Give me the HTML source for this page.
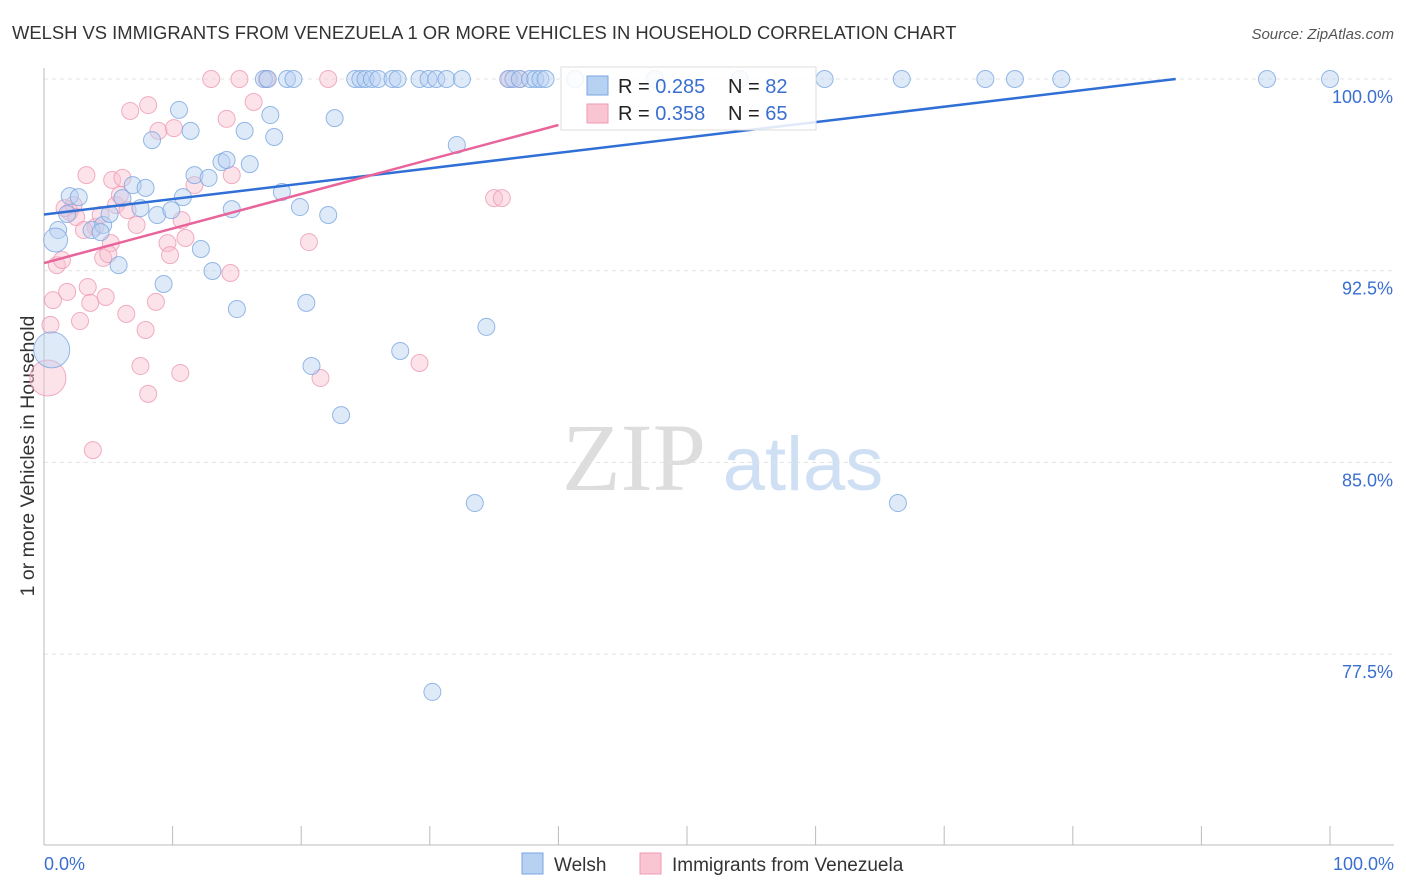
<!DOCTYPE html>
<html><head><meta charset="utf-8"><style>
body{margin:0;background:#fff;font-family:"Liberation Sans",sans-serif}
#c{position:relative;width:1406px;height:892px;overflow:hidden}
</style></head><body>
<div id="c">
<svg id="s" width="1406" height="892" xmlns="http://www.w3.org/2000/svg">
<text x="12" y="39" font-size="18.4" fill="#333">WELSH VS IMMIGRANTS FROM VENEZUELA 1 OR MORE VEHICLES IN HOUSEHOLD CORRELATION CHART</text>
<text x="1394" y="39" font-size="15" fill="#555" font-style="italic" text-anchor="end">Source: ZipAtlas.com</text>
<text transform="translate(34,456) rotate(-90)" font-size="19.5" fill="#333" text-anchor="middle">1 or more Vehicles in Household</text>
<g><text x="634" y="490" font-size="96" font-family="Liberation Serif,serif" fill="#ddd" text-anchor="middle">ZIP</text><text x="803" y="490" font-size="76" fill="#cfe0f5" text-anchor="middle">atlas</text></g>
<g id="grid"></g><g id="pts"></g><g id="lines"></g>
<g>
<rect x="561" y="67" width="255" height="63" fill="#fff" fill-opacity="0.85" stroke="#ddd"/>
<rect x="587" y="76" width="21" height="19" fill="#b7d1f2" stroke="#7aa6e0"/>
<rect x="587" y="104" width="21" height="19" fill="#f9c5d3" stroke="#ee9ab4"/>
<text x="618" y="93" font-size="20" fill="#222">R = <tspan fill="#3a6fd0">0.285</tspan></text>
<text x="728" y="93" font-size="20" fill="#222">N = <tspan fill="#3a6fd0">82</tspan></text>
<text x="618" y="120" font-size="20" fill="#222">R = <tspan fill="#3a6fd0">0.358</tspan></text>
<text x="728" y="120" font-size="20" fill="#222">N = <tspan fill="#3a6fd0">65</tspan></text>
</g>
<g>
<rect x="522" y="853" width="21" height="21" fill="#b7d1f2" stroke="#7aa6e0"/>
<text x="554" y="871" font-size="19" fill="#333">Welsh</text>
<rect x="640" y="853" width="21" height="21" fill="#f9c5d3" stroke="#ee9ab4"/>
<text x="672" y="871" font-size="19" fill="#333">Immigrants from Venezuela</text>
</g>
</svg></div>
<script>
const yTicks=[100,92.5,85,77.5];
const yTickLabels=["100.0%","92.5%","85.0%","77.5%"];
const xTickValues=[0,10,20,30,40,50,60,70,80,90,100];
const blueX=[2.0,2.7,1.8,1.1,0.9,0.6,3.7,4.6,5.1,6.1,6.9,7.9,7.5,8.8,9.9,8.4,10.5,11.4,11.7,10.8,12.8,12.2,13.1,13.8,14.2,14.6,15.6,16.0,15.0,17.6,17.9,18.5,19.9,20.4,20.8,22.1,22.6,23.1,27.7,32.1,33.5,34.4,30.2,66.4,5.8,9.3,4.4,17.1,17.4,18.9,19.4,24.2,24.6,25.0,25.5,26.0,27.1,27.5,29.2,29.9,30.5,31.3,32.5,36.1,36.5,37.0,37.8,38.2,38.6,39.0,41.3,47.5,54.1,60.7,66.7,73.2,75.5,79.1,95.1,100];
const blueY=[95.42,95.38,94.72,94.09,93.7,89.4,94.09,94.29,94.72,95.34,95.85,95.74,94.95,94.68,94.87,97.61,98.79,97.97,96.24,95.38,96.13,93.35,92.49,96.75,96.83,94.91,97.97,96.67,91.0,98.59,97.73,95.58,94.99,91.24,88.77,94.68,98.47,86.85,89.36,97.42,83.41,90.3,76.02,83.41,92.72,91.98,94.01,100,100,100,100,100,100,100,100,100,100,100,100,100,100,100,100,100,100,100,100,100,100,100,100,100,100,100,100,100,100,100,100,100];
const blueSize=[1,1,1,1,2,3,1,1,1,1,1,1,1,1,1,1,1,1,1,1,1,1,1,1,1,1,1,1,1,1,1,1,1,1,1,1,1,1,1,1,1,1,1,1,1,1,1,1,1,1,1,1,1,1,1,1,1,1,1,1,1,1,1,1,1,1,1,1,1,1,1,1,1,1,1,1,1,1,1,1];
const pinkX=[0.3,0.5,0.7,1.0,1.4,1.8,2.0,2.3,2.5,2.8,3.3,3.4,3.6,4.0,4.4,4.6,4.8,5.2,5.0,5.3,5.6,6.1,6.4,6.7,7.2,7.5,7.9,8.1,8.1,8.7,8.9,9.6,9.8,10.1,10.6,10.7,11.0,3.8,11.7,13.0,14.2,14.6,15.2,16.3,14.5,17.3,20.6,21.5,22.1,29.2,35.0,35.6,37.0,36.2,1.6,3.1,5.9,6.5];
const pinkY=[88.3,90.38,91.35,92.72,92.92,91.67,94.8,95.07,94.6,90.53,96.24,91.86,91.24,94.21,94.68,93.0,91.47,93.58,93.15,96.05,95.07,96.13,90.81,98.75,94.29,88.77,90.18,87.68,98.98,91.28,97.97,93.58,93.11,98.08,88.5,94.48,93.78,85.48,95.85,100,98.44,96.24,100,99.1,92.41,100,93.62,88.3,100,88.89,95.34,95.34,100,100,94.95,94.09,95.46,94.87];
const pinkSize=[3,1,1,1,1,1,1,1,1,1,1,1,1,1,1,1,1,1,1,1,1,1,1,1,1,1,1,1,1,1,1,1,1,1,1,1,1,1,1,1,1,1,1,1,1,1,1,1,1,1,1,1,1,1,1,1,1,1];
const blueLine=[94.7,100,88];
const pinkLine=[92.8,98.2,40];
const NS="http://www.w3.org/2000/svg";
const X=v=>44+v*12.86, Y=v=>79+(100-v)*25.56;
function mk(t,a,p){const e=document.createElementNS(NS,t);for(const k in a)e.setAttribute(k,a[k]);p.appendChild(e);return e;}
const grid=document.getElementById('grid'),pts=document.getElementById('pts'),lines=document.getElementById('lines');
yTicks.forEach((v,i)=>{
 const l=mk('line',{x1:44,x2:1394,y1:Y(v),y2:Y(v),stroke:'#e3e3e3','stroke-dasharray':'4,4'},grid);
 
 
 const t=mk('text',{x:1393,y:Y(v)+24,'font-size':18,fill:'#3a6fd0','text-anchor':'end'},grid);t.textContent=yTickLabels[i];
 
 
});
const ax=mk('line',{x1:44,x2:44,y1:68,y2:845,stroke:'#bbb'},grid);


const bx=mk('line',{x1:44,x2:1394,y1:845,y2:845,stroke:'#bbb'},grid);


xTickValues.forEach(v=>{const t=mk('line',{x1:X(v),x2:X(v),y1:826,y2:845,stroke:'#bbb'},grid);
 
 });
[[0,"0.0%","start",44],[100,"100.0%","end",1394]].forEach(d=>{const t=mk('text',{x:d[3],y:870,'font-size':18,fill:'#3a6fd0','text-anchor':d[2]},grid);t.textContent=d[1];
 
 });
function draw(xs,ys,ss,fill,stroke,name){xs.forEach((x,i)=>{const c=mk('circle',{cx:X(x),cy:Y(ys[i]),r:ss[i]==1?8.5:(ss[i]==2?12:18),fill:fill,'fill-opacity':0.45,stroke:stroke,'stroke-opacity':0.8},pts);
 
 });}
draw(pinkX,pinkY,pinkSize,'#f9c0d0','#ee9ab4','venezuela-point');
draw(blueX,blueY,blueSize,'#b7d1f2','#7aa6e0','welsh-point');
const bl=mk('line',{x1:X(0),y1:Y(blueLine[0]),x2:X(blueLine[2]),y2:Y(blueLine[1]),stroke:'#2f6fd6','stroke-width':2.5},lines);


const pl=mk('line',{x1:X(0),y1:Y(pinkLine[0]),x2:X(pinkLine[2]),y2:Y(pinkLine[1]),stroke:'#e8649a','stroke-width':2.5},lines);


</script>
</body></html>
